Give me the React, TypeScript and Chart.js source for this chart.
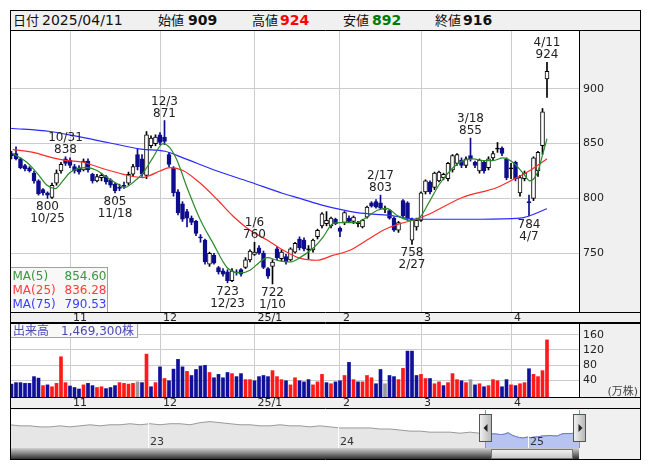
import React, { useEffect, useRef } from "react";
import { Chart, registerables } from "chart.js";

Chart.register(...registerables);

// ---------------- data ----------------
const headerDate = "2025/04/11";

const dates = [
  "10/15","10/16","10/17","10/18","10/21","10/22","10/23","10/24","10/25","10/28","10/29","10/30","10/31",
  "11/1","11/5","11/6","11/7","11/8","11/11","11/12","11/13","11/14","11/15","11/18","11/19","11/20","11/21","11/22","11/25","11/26","11/27","11/28","11/29",
  "12/2","12/3","12/4","12/5","12/6","12/9","12/10","12/11","12/12","12/13","12/16","12/17","12/18","12/19","12/20","12/23","12/24","12/25","12/26","12/27","12/30",
  "1/6","1/7","1/8","1/9","1/10","1/14","1/15","1/16","1/17","1/20","1/21","1/22","1/23","1/24","1/27","1/28","1/29","1/30","1/31",
  "2/3","2/4","2/5","2/6","2/7","2/10","2/12","2/13","2/14","2/17","2/18","2/19","2/20","2/21","2/25","2/26","2/27","2/28",
  "3/3","3/4","3/5","3/6","3/7","3/10","3/11","3/12","3/13","3/14","3/17","3/18","3/19","3/21","3/24","3/25","3/26","3/27","3/28","3/31",
  "4/1","4/2","4/3","4/4","4/7","4/8","4/9","4/10","4/11",
];

const opens = [
  841,841,836,830,828,823,816,808,805,801,814,825,836,
  835,829,828,826,834,822,816,819,820,817,813,810,812,814,822,840,836,821,848,850,
  858,856,840,828,806,795,788,782,779,765,762,740,748,737,734,733,725,733,735,737,744,
  749,755,750,736,738,754,745,747,744,751,763,762,753,753,765,775,777,775,781,
  773,778,782,779,777,774,783,796,797,796,790,789,782,771,798,796,762,774,
  780,806,815,810,816,819,818,826,832,835,830,839,833,825,833,828,837,845,846,836,
  827,833,805,818,797,800,825,848,909,
];
const highs = [
  843,847,837,831,829,825,817,809,806,814,826,833,838,
  837,831,830,836,836,823,822,823,821,818,814,813,815,824,831,845,840,861,857,858,
  860,871,842,829,808,797,790,784,780,767,763,751,750,738,736,735,736,735,736,746,753,
  760,757,752,737,744,756,753,749,755,760,765,764,757,763,772,787,788,783,782,
  774,788,784,784,779,781,793,797,799,803,793,790,783,779,799,797,782,782,
  806,817,816,824,825,823,833,840,841,837,838,855,834,836,834,838,843,851,847,837,
  832,834,821,825,803,838,843,882,924,
];
const lows = [
  836,835,827,825,824,814,803,803,800,800,812,823,830,
  828,823,822,825,824,814,815,816,813,810,805,807,809,812,820,826,820,818,846,848,
  849,849,829,802,785,779,774,776,766,760,740,738,740,731,729,723,724,730,729,736,742,
  748,749,736,727,722,744,743,740,743,750,753,752,745,751,763,773,775,773,776,
  765,776,778,777,774,773,782,792,791,790,787,781,770,769,783,780,758,771,
  779,804,804,808,815,817,816,824,830,828,828,834,828,823,823,826,835,842,839,817,
  818,816,802,816,784,798,820,840,892,
];
const closes = [
  839,836,828,827,825,816,804,805,803,812,823,831,832,
  830,825,824,834,826,816,820,821,815,812,807,809,811,822,829,829,822,858,855,856,
  851,852,831,805,787,781,782,778,768,764,742,750,741,733,731,725,734,732,731,744,752,
  751,750,737,729,742,746,751,742,754,759,755,754,753,762,771,786,780,782,777,
  770,787,779,783,777,780,792,793,792,791,791,782,771,778,784,782,781,780,
  805,816,806,823,824,822,832,839,840,830,836,836,830,835,825,836,841,845,841,819,
  827,818,819,823,796,837,842,879,916,
];
// 出来高 (万株)
const volumes = [
  29,33,33,31,31,49,45,25,27,22,31,102,33,
  24,20,16,27,31,25,20,22,17,20,25,33,31,29,31,35,33,109,22,33,
  75,44,38,69,95,75,63,52,68,77,79,60,46,55,46,60,57,49,57,41,41,
  38,49,52,49,65,49,41,38,27,46,38,35,41,27,35,55,33,30,35,
  38,52,87,41,35,35,52,46,30,68,30,52,49,41,71,117,117,52,
  55,44,44,30,35,25,33,57,41,38,33,41,27,30,22,25,41,38,22,41,
  27,25,30,33,70,55,49,65,146.93,
];
const lastVolumeShares = 1469300;

const monthStartIdx = [13, 33, 54, 73, 91, 111];
const monthLabels = ["11", "12", "25/1", "2", "3", "4"];
const priceTicks = [750, 800, 850, 900];
const volumeTicks = [40, 80, 120, 160];

// moving averages (x = trading-day index)
const ma5X = [0.3,3.4,5.7,7.9,9.7,11.4,13,14.6,16.8,19,21.2,23.4,25.2,27,29.2,31.4,33.7,35.2,36.8,39,41.9,44.8,47.9,50.8,53,55.2,56.8,59,61.9,64.1,67,69.2,71.4,73,76.8,79,81.2,83.4,85.7,88.6,90.8,93,95.2,98.1,100.3,102.6,104.8,107,109.2,111.4,113.7,115.2,116.8,118.1,119];
const ma5Y = [841,833,823,812,809,816,823.6,827,828,825.5,819,813.6,810,814.5,823,837,850,846,834.5,810,781,759,737,732,734.5,742,746,743.6,742,746,754.5,764.5,777,778,778,783,789,791,784.5,780,783,798,813.6,828,834.5,836,834.5,834.5,837,833,823,816,823,841,854.6];
const ma25X = [0.3,4.8,9.2,12.3,15.9,19.7,23.4,27,29.2,30.8,33,35.2,38.1,41.9,45.7,49.2,53,56.8,60.3,64.1,67.9,71.4,75.2,79,82.6,86.3,90.1,93,100.3,107.9,112.3,115.2,119];
const ma25Y = [844.5,842,837,834.5,833,828,823.6,820,819,821,825,828,825.5,814,799,784,771,762,753,745.5,743.6,748,752.7,762,771,777,781,786,801,810,819,825.5,836.28];
const ma75X = [-0.33,8.6,14.1,21.4,28.8,34.1,38.1,45.7,53,60.3,64.1,69.2,76.8,84.1,90.1,95.2,104.1,113,119];
const ma75Y = [864,861,857,851,845,843,837,825,815,804.5,800,793.6,787,784.5,781,781,781,782,790.53];
const maNames = ["MA(5)", "MA(25)", "MA(75)"];
const maLast = [854.6, 836.28, 790.53];

// high / low markers
const markIdx = [8, 12, 23, 34, 48, 54, 58, 82, 89, 102, 115, 119];
const markKind = ["low","high","low","high","low","high","low","high","low","high","low","high"];

// navigator (long history), x in years
const navX = [
  2022.274,2022.326,2022.379,2022.432,2022.484,2022.537,2022.589,2022.642,2022.695,2022.747,2022.8,2022.853,2022.905,2022.958,
  2023.011,2023.063,2023.116,2023.168,2023.221,2023.274,2023.326,2023.379,2023.432,2023.484,2023.537,2023.589,2023.642,2023.695,2023.747,2023.8,2023.853,2023.905,2023.958,
  2024.011,2024.063,2024.116,2024.168,2024.221,2024.274,2024.326,2024.379,2024.432,2024.484,2024.537,2024.589,2024.642,2024.695,2024.747,
  2024.775,2024.795,2024.815,2024.835,2024.855,2024.875,2024.895,2024.915,2024.935,2024.955,2024.975,2024.995,
  2025.015,2025.035,2025.055,2025.075,2025.095,2025.115,2025.135,2025.155,2025.175,2025.195,2025.215,2025.235,2025.255,2025.27,
];
const navY = [
  1045,1020,1020,995,995,1020,995,1020,1045,1020,1045,1045,1070,1045,
  1070,1045,1070,1070,1045,1095,1120,1095,1070,1045,1045,1020,1020,1045,1020,1020,995,1020,995,
  970,970,970,970,945,945,920,895,895,870,870,870,845,870,845,
  840,805,830,825,812,822,856,800,768,741,733,752,
  742,754,762,780,783,792,782,781,823,839,836,841,823,916,
];
const navSelStart = 2024.775;
const navYearTicks = [2023, 2024, 2025];
const navYearLabels = ["23", "24", "25"];

// ---------------- styling ----------------
const FONT = "'DejaVu Sans', 'Noto Sans CJK JP', sans-serif";
const GRID = "#cccccc";
const AXIS_BG = "#f0f0f0";
const DOWN = "#0c0c8c";
const VOL_UP = "#ff1a1a";
const VOL_DOWN = "#10109a";
const VOL_FLAT = "#9a9a9a";
const MA_COLORS = ["#2a8a2a", "#ff2a2a", "#2a2aff"];
const MA_TEXT = ["#3c963c", "#ff3c3c", "#3c3cff"];

const X_MIN = -1.5 / 4.5;
const X_MAX = X_MIN + 569 / 4.5;
const VOL_MIN = -5.33;
const VOL_MAX = 189.33;

const idx = closes.map((_, i) => i);

function line(ctx: CanvasRenderingContext2D, x1: number, y1: number, x2: number, y2: number) {
  ctx.beginPath();
  ctx.moveTo(x1, y1);
  ctx.lineTo(x2, y2);
  ctx.stroke();
}

function xScaleOpts(stripH: number) {
  return {
    type: "linear",
    min: X_MIN,
    max: X_MAX,
    offset: false,
    afterBuildTicks: (s: any) => {
      s.ticks = monthStartIdx.map((v) => ({ value: v }));
    },
    afterFit: (s: any) => {
      s.height = stripH;
      s.paddingLeft = 0;
      s.paddingRight = 0;
    },
    ticks: { display: false },
    grid: { color: GRID, drawTicks: false, offset: false },
    border: { display: false },
  };
}

function yScaleOpts(min: number, max: number, ticks: number[]) {
  return {
    type: "linear",
    position: "right",
    min,
    max,
    afterBuildTicks: (s: any) => {
      s.ticks = ticks.map((v) => ({ value: v }));
    },
    afterFit: (s: any) => {
      s.width = 62;
      s.paddingTop = 0;
      s.paddingBottom = 0;
    },
    ticks: { color: "#222", font: { family: FONT, size: 11 }, padding: 4 },
    grid: { color: GRID, drawTicks: false },
    border: { display: false },
  };
}

function drawStrip(chart: any) {
  const { ctx, chartArea: a, width, height, scales } = chart;
  ctx.font = `11px ${FONT}`;
  ctx.fillStyle = "#222";
  ctx.textAlign = "left";
  ctx.textBaseline = "middle";
  const my = (a.bottom + height) / 2 + 0.5;
  monthStartIdx.forEach((m, k) => {
    ctx.fillText(monthLabels[k], scales.x.getPixelForValue(m) + 3, my);
  });
  ctx.strokeStyle = "#000";
  ctx.lineWidth = 1;
  line(ctx, 0.5, 0, 0.5, height);
  line(ctx, width - 0.5, 0, width - 0.5, height);
  line(ctx, 0, 0.5, width, 0.5);
  line(ctx, a.right + 0.5, 0, a.right + 0.5, a.bottom);
  line(ctx, 0, a.bottom + 0.5, width, a.bottom + 0.5);
  line(ctx, 0, height - 0.5, width, height - 0.5);
}

const bgPlugin = {
  id: "bgPlugin",
  beforeDraw(chart: any) {
    const { ctx, chartArea: a, width, height } = chart;
    ctx.save();
    ctx.fillStyle = AXIS_BG;
    ctx.fillRect(0, 0, width, height);
    ctx.fillStyle = "#ffffff";
    ctx.fillRect(a.left, a.top, a.right - a.left, a.bottom - a.top);
    ctx.restore();
  },
};

const mainPlugin = {
  id: "mainDeco",
  afterDraw(chart: any) {
    const { ctx, chartArea: a, scales } = chart;
    const x = scales.x;
    const y = scales.y;
    ctx.save();
    // high / low markers
    ctx.font = `12px ${FONT}`;
    ctx.fillStyle = "#222";
    ctx.textAlign = "center";
    ctx.textBaseline = "alphabetic";
    markIdx.forEach((i, k) => {
      const px = x.getPixelForValue(i);
      if (markKind[k] === "high") {
        const py = y.getPixelForValue(highs[i]);
        ctx.fillText(dates[i], px, py - 16);
        ctx.fillText(String(highs[i]), px, py - 4);
      } else {
        const py = y.getPixelForValue(lows[i]);
        ctx.fillText(String(lows[i]), px, py + 12);
        ctx.fillText(dates[i], px, py + 24);
      }
    });
    // MA legend box
    const bw = 97;
    const bh = 45;
    const bx = 0.5;
    const by = a.bottom - bh + 0.5;
    ctx.fillStyle = "#f8f8f8";
    ctx.fillRect(bx, by, bw, bh);
    ctx.strokeStyle = "#a0a0a0";
    ctx.strokeRect(bx, by, bw, bh);
    ctx.font = `12px ${FONT}`;
    maNames.forEach((n, k) => {
      const base = by + 12 + k * 14;
      ctx.fillStyle = MA_TEXT[k];
      ctx.textAlign = "left";
      ctx.fillText(n, bx + 2, base);
      ctx.textAlign = "right";
      ctx.fillText(maLast[k].toFixed(2), bx + bw - 1, base);
    });
    drawStrip(chart);
    ctx.restore();
  },
};

const volPlugin = {
  id: "volDeco",
  afterDraw(chart: any) {
    const { ctx, chartArea: a, width } = chart;
    ctx.save();
    // 万株 unit
    ctx.font = `11px ${FONT}`;
    ctx.fillStyle = "#444";
    ctx.textAlign = "right";
    ctx.textBaseline = "alphabetic";
    ctx.fillText("(万株)", width - 3, a.bottom - 2);
    // label box
    const txt = "出来高　" + lastVolumeShares.toLocaleString("en-US") + "株";
    ctx.font = `12px ${FONT}`;
    const tw = ctx.measureText(txt).width;
    ctx.fillStyle = "#f8f8f8";
    ctx.fillRect(0.5, 0.5, tw + 6, 14);
    ctx.strokeStyle = "#a0a0a0";
    ctx.strokeRect(0.5, 0.5, tw + 6, 14);
    ctx.fillStyle = "#4a4ab4";
    ctx.textAlign = "left";
    ctx.fillText(txt, 3, 12);
    drawStrip(chart);
    ctx.restore();
  },
};

const navPlugin = {
  id: "navDeco",
  afterDraw(chart: any) {
    const { ctx, chartArea: a, width, height, scales } = chart;
    const x = scales.x;
    ctx.save();
    // year separators and labels
    navYearTicks.forEach((yr, k) => {
      const px = Math.round(x.getPixelForValue(yr));
      ctx.fillStyle = "#ffffff";
      ctx.fillRect(px, a.top, 1, a.bottom - a.top);
      ctx.fillStyle = "#333";
      ctx.font = `11px ${FONT}`;
      ctx.textAlign = "left";
      ctx.textBaseline = "alphabetic";
      ctx.fillText(navYearLabels[k], px + 2, a.bottom - 3);
    });
    // scrollbar
    const sbTop = a.bottom;
    const sbH = height - 1 - a.bottom;
    const g = ctx.createLinearGradient(0, sbTop, 0, sbTop + sbH);
    g.addColorStop(0, "#d0d0d0");
    g.addColorStop(0.45, "#8a8a8a");
    g.addColorStop(1, "#303030");
    ctx.fillStyle = g;
    ctx.fillRect(0, sbTop, a.right, sbH);
    const sx = Math.round(x.getPixelForValue(navSelStart));
    const ex = a.right;
    const tg = ctx.createLinearGradient(0, sbTop, 0, sbTop + sbH);
    tg.addColorStop(0, "#fbfbfb");
    tg.addColorStop(1, "#c4c4c4");
    ctx.fillStyle = tg;
    ctx.fillRect(sx + 6, sbTop + 1, ex - sx - 12, sbH - 1);
    ctx.strokeStyle = "#777";
    ctx.strokeRect(sx + 6.5, sbTop + 1.5, ex - sx - 13, sbH - 2);
    // selection edges
    ctx.strokeStyle = "#33b5e5";
    ctx.lineWidth = 1;
    line(ctx, sx + 0.5, a.top, sx + 0.5, a.bottom);
    line(ctx, ex + 0.5, a.top, ex + 0.5, a.bottom);
    // handles
    [sx, ex].forEach((hx, k) => {
      const hg = ctx.createLinearGradient(hx - 6, 0, hx + 6, 0);
      hg.addColorStop(0, "#f4f4f4");
      hg.addColorStop(1, "#b8b8b8");
      ctx.fillStyle = hg;
      ctx.fillRect(hx - 5.5, 5.5, 12, 27);
      ctx.strokeStyle = "#555";
      ctx.strokeRect(hx - 5.5, 5.5, 12, 27);
      ctx.fillStyle = "#222";
      ctx.beginPath();
      if (k === 0) {
        ctx.moveTo(hx - 1.5, 19);
        ctx.lineTo(hx + 2.5, 15);
        ctx.lineTo(hx + 2.5, 23);
      } else {
        ctx.moveTo(hx + 3.5, 19);
        ctx.lineTo(hx - 0.5, 15);
        ctx.lineTo(hx - 0.5, 23);
      }
      ctx.closePath();
      ctx.fill();
    });
    // borders
    ctx.strokeStyle = "#000";
    line(ctx, 0.5, 0, 0.5, height);
    line(ctx, width - 0.5, 0, width - 0.5, height);
    line(ctx, 0, height - 0.5, width, height - 0.5);
    ctx.restore();
  },
};

function makeMain(canvas: HTMLCanvasElement) {
  const bodyBg = idx.map((i) => (closes[i] > opens[i] ? "#ffffff" : closes[i] < opens[i] ? DOWN : "#000000"));
  const bodyBorder = idx.map((i) => (closes[i] >= opens[i] ? "#000000" : DOWN));
  const wickColor = idx.map((i) => (closes[i] >= opens[i] ? "#000000" : DOWN));
  const maSets = [
    [ma5X, ma5Y],
    [ma25X, ma25Y],
    [ma75X, ma75Y],
  ].map(([xs, ys], k) => ({
    type: "line",
    data: xs.map((v, j) => ({ x: v, y: ys[j] })),
    borderColor: MA_COLORS[k],
    borderWidth: 1.2,
    pointRadius: 0,
    cubicInterpolationMode: "monotone",
    fill: false,
  }));
  return new Chart(canvas, {
    type: "bar",
    data: {
      datasets: [
        ...maSets,
        {
          type: "bar",
          data: idx.map((i) => ({ x: i, y: [opens[i], closes[i]] })),
          backgroundColor: bodyBg,
          borderColor: bodyBorder,
          borderWidth: 1,
          borderSkipped: false,
          barThickness: 4,
          grouped: false,
          minBarLength: 1,
        },
        {
          type: "bar",
          data: idx.map((i) => ({ x: i, y: [lows[i], highs[i]] })),
          backgroundColor: wickColor,
          borderWidth: 0,
          barThickness: 1,
          grouped: false,
        },
      ],
    } as any,
    options: {
      animation: false,
      responsive: false,
      events: [],
      layout: { padding: 0 },
      plugins: { legend: { display: false }, tooltip: { enabled: false } },
      scales: {
        x: xScaleOpts(11),
        y: yScaleOpts(696.4, 953.6, priceTicks),
      },
    } as any,
    plugins: [bgPlugin, mainPlugin],
  });
}

function makeVol(canvas: HTMLCanvasElement) {
  const colors = idx.map((i) => {
    const prev = i === 0 ? opens[0] : closes[i - 1];
    return closes[i] > prev ? VOL_UP : closes[i] < prev ? VOL_DOWN : VOL_FLAT;
  });
  return new Chart(canvas, {
    type: "bar",
    data: {
      datasets: [
        {
          type: "bar",
          data: idx.map((i) => ({ x: i, y: [VOL_MIN, volumes[i]] })),
          backgroundColor: colors,
          borderWidth: 0,
          barThickness: 3,
          grouped: false,
        },
      ],
    } as any,
    options: {
      animation: false,
      responsive: false,
      events: [],
      layout: { padding: { top: 1 } },
      plugins: { legend: { display: false }, tooltip: { enabled: false } },
      scales: {
        x: xScaleOpts(12),
        y: yScaleOpts(VOL_MIN, VOL_MAX, volumeTicks),
      },
    } as any,
    plugins: [bgPlugin, volPlugin],
  });
}

function makeNav(canvas: HTMLCanvasElement) {
  const all = navX.map((v, j) => ({ x: v, y: navY[j] }));
  const sel = all.filter((p) => p.x >= navSelStart);
  return new Chart(canvas, {
    type: "line",
    data: {
      datasets: [
        {
          data: sel,
          borderColor: "#6c7cc4",
          backgroundColor: "#b7c3f1",
          borderWidth: 1,
          pointRadius: 0,
          fill: "start",
        },
        {
          data: all,
          borderColor: "#9a9a9a",
          backgroundColor: "#e6e6e6",
          borderWidth: 1,
          pointRadius: 0,
          fill: "start",
        },
      ],
    } as any,
    options: {
      animation: false,
      responsive: false,
      events: [],
      layout: { padding: { top: 1, bottom: 12, right: 62, left: 0 } },
      plugins: { legend: { display: false }, tooltip: { enabled: false } },
      scales: {
        x: { type: "linear", display: false, min: 2022.2737, max: 2025.2684 },
        y: { type: "linear", display: false, min: 495, max: 1395 },
      },
    } as any,
    plugins: [bgPlugin, navPlugin],
  });
}

const headerItem: React.CSSProperties = { position: "absolute", top: 0, lineHeight: "19px", whiteSpace: "nowrap" };

export default function App() {
  const mainRef = useRef<HTMLCanvasElement>(null);
  const volRef = useRef<HTMLCanvasElement>(null);
  const navRef = useRef<HTMLCanvasElement>(null);

  useEffect(() => {
    const charts = [makeMain(mainRef.current!), makeVol(volRef.current!), makeNav(navRef.current!)];
    return () => charts.forEach((c) => c.destroy());
  }, []);

  const last = closes.length - 1;
  const lab: React.CSSProperties = { ...headerItem, fontSize: 13, color: "#111" };
  const num: React.CSSProperties = { ...headerItem, fontSize: 14, fontWeight: "bold", color: "#111" };

  return (
    <div style={{ position: "fixed", left: 0, top: 0, width: 653, height: 470, background: "#fff", fontFamily: FONT }}>
      <div
        style={{
          position: "absolute",
          left: 10,
          top: 10,
          width: 631,
          height: 21,
          boxSizing: "border-box",
          border: "1px solid #000",
          background: AXIS_BG,
        }}
      >
        <span style={{ ...lab, left: 2 }}>日付</span>
        <span style={{ ...headerItem, left: 31, fontSize: 14, color: "#111" }}>{headerDate}</span>
        <span style={{ ...lab, left: 147 }}>始値</span>
        <span style={{ ...num, left: 177 }}>{opens[last]}</span>
        <span style={{ ...lab, left: 241 }}>高値</span>
        <span style={{ ...num, left: 269, color: "#ff0000" }}>{highs[last]}</span>
        <span style={{ ...lab, left: 332 }}>安値</span>
        <span style={{ ...num, left: 361, color: "#007a00" }}>{lows[last]}</span>
        <span style={{ ...lab, left: 424 }}>終値</span>
        <span style={{ ...num, left: 452 }}>{closes[last]}</span>
      </div>
      <canvas ref={mainRef} width={631} height={293} style={{ position: "absolute", left: 10, top: 30 }} />
      <canvas ref={volRef} width={631} height={86} style={{ position: "absolute", left: 10, top: 323 }} />
      <canvas ref={navRef} width={631} height={51} style={{ position: "absolute", left: 10, top: 409 }} />
    </div>
  );
}
